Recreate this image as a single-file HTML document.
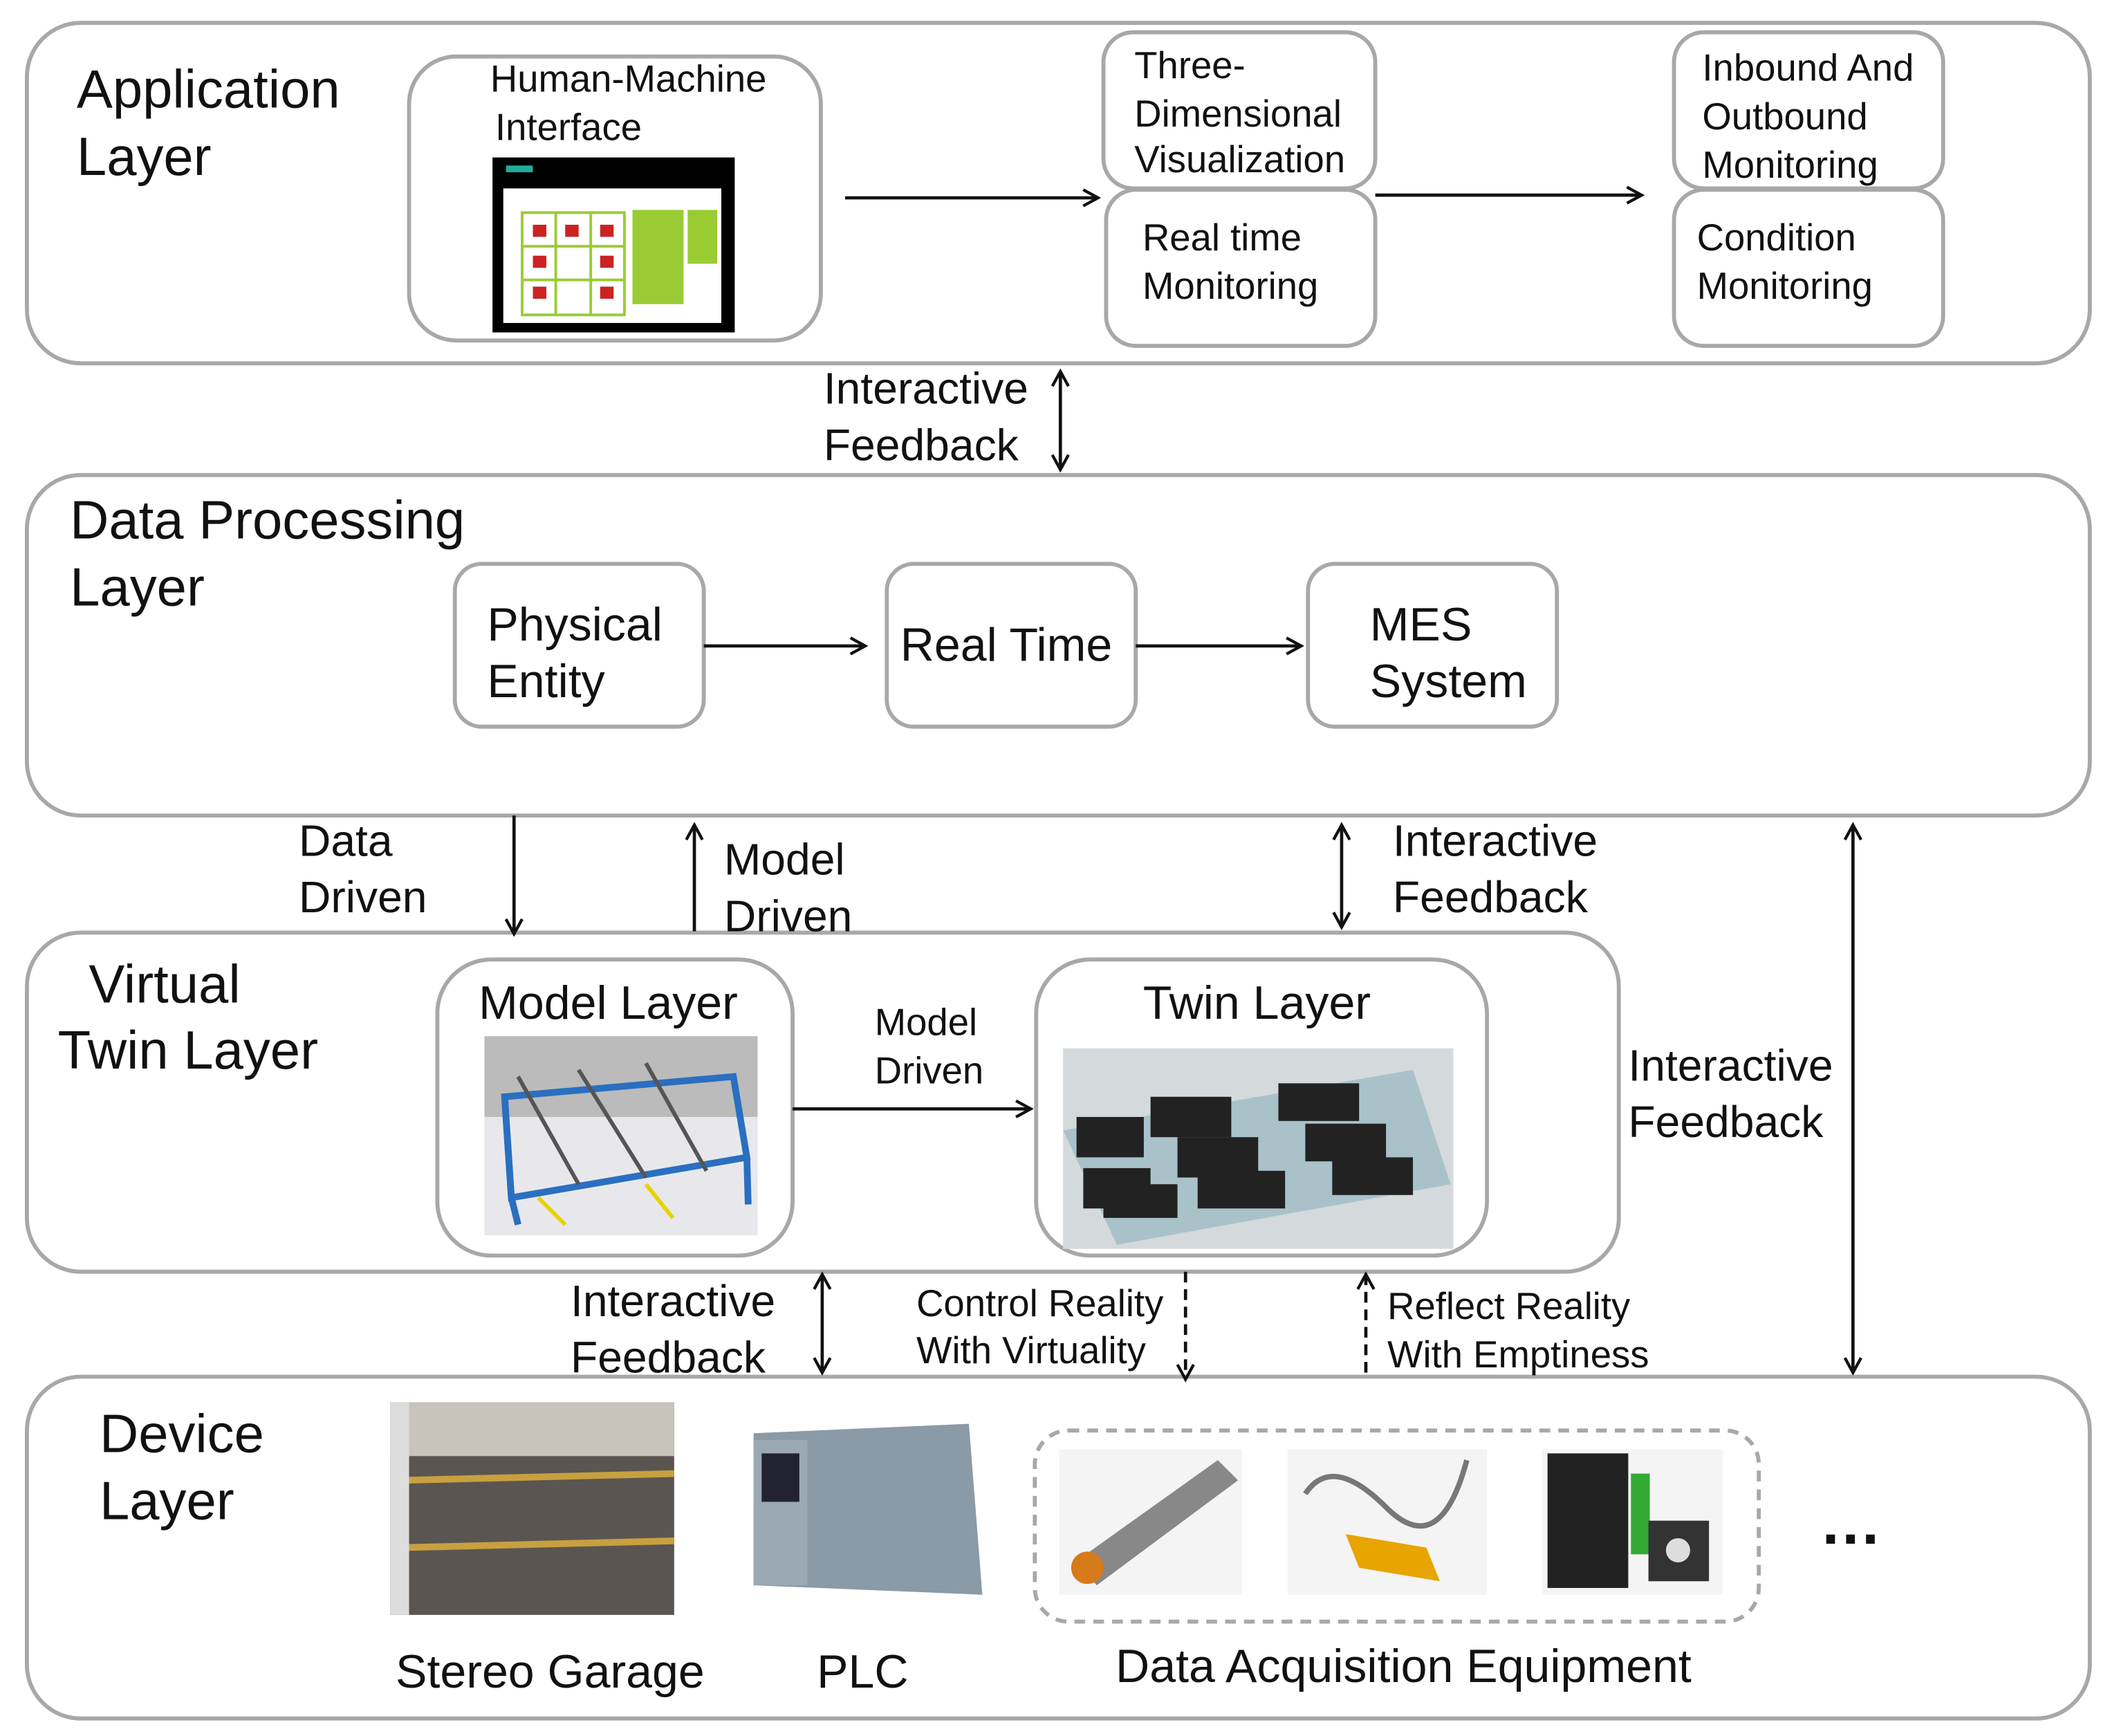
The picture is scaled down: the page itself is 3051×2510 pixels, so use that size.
<!DOCTYPE html>
<html><head><meta charset="utf-8"><style>html,body{margin:0;padding:0;background:#fff}svg{display:block}</style></head><body>
<svg width="3051" height="2510" viewBox="0 0 1568 1290" preserveAspectRatio="none" xmlns="http://www.w3.org/2000/svg" font-family="Liberation Sans, Arial, sans-serif" fill="#111">
<defs>
<marker id="ah" markerWidth="14" markerHeight="14" refX="12" refY="7" orient="auto" markerUnits="userSpaceOnUse"><path d="M1,1 L12,7 L1,13" fill="none" stroke="#111" stroke-width="2.2"/></marker>
<marker id="as" markerWidth="14" markerHeight="14" refX="2" refY="7" orient="auto" markerUnits="userSpaceOnUse"><path d="M13,1 L2,7 L13,13" fill="none" stroke="#111" stroke-width="2.2"/></marker>
</defs>
<g fill="none" stroke="#a8a8a8" stroke-width="3">
<rect x="20" y="17" width="1533" height="253" rx="40"/>
<rect x="20" y="353" width="1533" height="253" rx="40"/>
<rect x="20" y="693" width="1183" height="252" rx="40"/>
<rect x="20" y="1023" width="1533" height="254" rx="40"/>
<rect x="304" y="42" width="306" height="211" rx="35"/>
<rect x="820" y="24" width="202" height="116" rx="22"/>
<rect x="822" y="141" width="200" height="116" rx="22"/>
<rect x="1244" y="24" width="200" height="116" rx="22"/>
<rect x="1244" y="141" width="200" height="116" rx="22"/>
<rect x="338" y="419" width="185" height="121" rx="20"/>
<rect x="659" y="419" width="185" height="121" rx="20"/>
<rect x="972" y="419" width="185" height="121" rx="20"/>
<rect x="325" y="713" width="264" height="220" rx="40"/>
<rect x="770" y="713" width="335" height="220" rx="40"/>
<rect x="769" y="1063" width="538" height="142" rx="25" stroke-dasharray="8 6"/>
</g>
<!-- HMI screen -->
<rect x="366" y="117" width="180" height="130" fill="#000"/>
<rect x="374" y="140" width="162" height="100" fill="#fff"/>
<rect x="376" y="123" width="20" height="5" fill="#2a9"/>
<g fill="none" stroke="#9c3" stroke-width="2"><rect x="388" y="158" width="76" height="76"/><line x1="413" y1="158" x2="413" y2="234"/><line x1="439" y1="158" x2="439" y2="234"/><line x1="388" y1="183" x2="464" y2="183"/><line x1="388" y1="208" x2="464" y2="208"/></g>
<rect x="470" y="156" width="38" height="70" fill="#9c3"/><rect x="511" y="156" width="22" height="40" fill="#9c3"/>
<g fill="#c22"><rect x="396" y="167" width="10" height="9"/><rect x="420" y="167" width="10" height="9"/><rect x="446" y="167" width="10" height="9"/><rect x="396" y="190" width="10" height="9"/><rect x="446" y="190" width="10" height="9"/><rect x="396" y="213" width="10" height="9"/><rect x="446" y="213" width="10" height="9"/></g>
<!-- model layer image -->
<rect x="360" y="770" width="203" height="148" fill="#e8e8ec"/>
<rect x="360" y="770" width="203" height="60" fill="#bbb"/>
<g fill="none" stroke="#2a6fc0" stroke-width="5"><path d="M375 815 L545 800 L555 860 L380 890 Z"/><line x1="380" y1="890" x2="385" y2="910"/><line x1="555" y1="860" x2="556" y2="895"/><line x1="375" y1="815" x2="380" y2="890"/></g>
<g stroke="#555" stroke-width="3"><line x1="385" y1="800" x2="430" y2="880"/><line x1="430" y1="795" x2="480" y2="875"/><line x1="480" y1="790" x2="525" y2="870"/></g>
<g stroke="#e8d200" stroke-width="3"><line x1="400" y1="890" x2="420" y2="910"/><line x1="480" y1="880" x2="500" y2="905"/></g>
<!-- twin image -->
<rect x="790" y="779" width="290" height="149" fill="#d4d9dc"/>
<path d="M790 840 L1050 795 L1078 880 L830 925 Z" fill="#a9c2c9"/>
<g fill="#222"><rect x="800" y="830" width="50" height="30"/><rect x="855" y="815" width="60" height="30"/><rect x="950" y="805" width="60" height="28"/><rect x="805" y="868" width="50" height="30"/><rect x="875" y="845" width="60" height="30"/><rect x="970" y="835" width="60" height="28"/><rect x="820" y="880" width="55" height="25"/><rect x="890" y="870" width="65" height="28"/><rect x="990" y="860" width="60" height="28"/></g>
<!-- device images -->
<rect x="290" y="1042" width="211" height="158" fill="#5a5550"/>
<rect x="290" y="1042" width="211" height="40" fill="#c8c4bc"/>
<g stroke="#c8a040" stroke-width="5"><line x1="300" y1="1100" x2="501" y2="1095"/><line x1="300" y1="1150" x2="501" y2="1145"/></g>
<rect x="290" y="1042" width="14" height="158" fill="#ddd"/>
<path d="M560 1065 L720 1058 L730 1185 L560 1178 Z" fill="#8a9aa6"/>
<rect x="560" y="1070" width="40" height="108" fill="#9aa9b4"/>
<rect x="566" y="1080" width="28" height="36" fill="#223"/>
<rect x="787" y="1077" width="136" height="108" fill="#f4f4f4"/>
<path d="M800 1160 L905 1085 L920 1100 L815 1178 Z" fill="#888"/><circle cx="808" cy="1165" r="12" fill="#d77a1c"/>
<rect x="957" y="1077" width="148" height="108" fill="#f4f4f4"/>
<path d="M1000 1140 L1060 1150 L1070 1175 L1010 1165 Z" fill="#e8a400"/><path d="M970 1110 Q990 1080 1030 1120 T1090 1085" fill="none" stroke="#777" stroke-width="4"/>
<rect x="1146" y="1077" width="134" height="108" fill="#f4f4f4"/>
<rect x="1150" y="1080" width="60" height="100" fill="#222"/><rect x="1212" y="1095" width="14" height="60" fill="#3a3"/><rect x="1225" y="1130" width="45" height="45" fill="#333"/><circle cx="1247" cy="1152" r="9" fill="#ddd"/>
<!-- arrows -->
<g stroke="#111" stroke-width="2.4" fill="none">
<line x1="628" y1="147" x2="816" y2="147" marker-end="url(#ah)"/>
<line x1="1022" y1="145" x2="1220" y2="145" marker-end="url(#ah)"/>
<line x1="788" y1="276" x2="788" y2="349" marker-start="url(#as)" marker-end="url(#ah)"/>
<line x1="523" y1="480" x2="643" y2="480" marker-end="url(#ah)"/>
<line x1="844" y1="480" x2="967" y2="480" marker-end="url(#ah)"/>
<line x1="382" y1="606" x2="382" y2="694" marker-end="url(#ah)"/>
<line x1="516" y1="692" x2="516" y2="613" marker-end="url(#ah)"/>
<line x1="997" y1="613" x2="997" y2="689" marker-start="url(#as)" marker-end="url(#ah)"/>
<line x1="1377" y1="613" x2="1377" y2="1020" marker-start="url(#as)" marker-end="url(#ah)"/>
<line x1="589" y1="824" x2="766" y2="824" marker-end="url(#ah)"/>
<line x1="611" y1="947" x2="611" y2="1020" marker-start="url(#as)" marker-end="url(#ah)"/>
<line x1="881" y1="945" x2="881" y2="1025" stroke-dasharray="8 5" marker-end="url(#ah)"/>
<line x1="1015" y1="1020" x2="1015" y2="947" stroke-dasharray="8 5" marker-end="url(#ah)"/>
</g>
<!-- text -->
<g font-size="40"><text x="57" y="80">Application</text><text x="57" y="130">Layer</text>
<text x="52" y="400">Data Processing</text><text x="52" y="450">Layer</text>
<text x="66" y="745">Virtual</text><text x="43" y="794">Twin Layer</text>
<text x="74" y="1079">Device</text><text x="74" y="1129">Layer</text></g>
<g font-size="28"><text x="467" y="68" text-anchor="middle">Human-Machine</text><text x="368" y="104">Interface</text>
<text x="843" y="58">Three-</text><text x="843" y="94">Dimensional</text><text x="843" y="128">Visualization</text>
<text x="849" y="186">Real time</text><text x="849" y="222">Monitoring</text>
<text x="1265" y="60">Inbound And</text><text x="1265" y="96">Outbound</text><text x="1265" y="132">Monitoring</text>
<text x="1261" y="186">Condition</text><text x="1261" y="222">Monitoring</text>
<text x="650" y="769">Model</text><text x="650" y="805">Driven</text>
<text x="681" y="978">Control Reality</text><text x="681" y="1013">With Virtuality</text>
<text x="1031" y="980">Reflect Reality</text><text x="1031" y="1016">With Emptiness</text></g>
<g font-size="33"><text x="612" y="300">Interactive</text><text x="612" y="342">Feedback</text>
<text x="222" y="636">Data</text><text x="222" y="678">Driven</text>
<text x="538" y="650">Model</text><text x="538" y="692">Driven</text>
<text x="1035" y="636">Interactive</text><text x="1035" y="678">Feedback</text>
<text x="1210" y="803">Interactive</text><text x="1210" y="845">Feedback</text>
<text x="424" y="978">Interactive</text><text x="424" y="1020">Feedback</text></g>
<g font-size="35"><text x="362" y="476">Physical</text><text x="362" y="518">Entity</text>
<text x="669" y="491">Real Time</text><text x="1018" y="476">MES</text><text x="1018" y="518">System</text>
<text x="452" y="757" text-anchor="middle">Model Layer</text><text x="934" y="757" text-anchor="middle">Twin Layer</text>
<text x="294" y="1254">Stereo Garage</text><text x="607" y="1254">PLC</text><text x="829" y="1250">Data Acquisition Equipment</text></g>
<text x="1354" y="1147" font-size="46" font-weight="bold" letter-spacing="2">...</text>
</svg>
</body></html>
